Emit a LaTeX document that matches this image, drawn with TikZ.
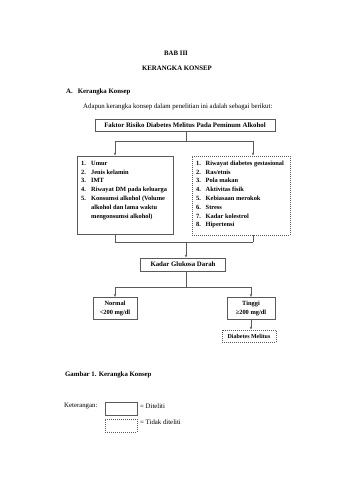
\documentclass[tikz,border=0pt]{standalone}
\usepackage{fontspec}
\setmainfont{Liberation Serif}
\usetikzlibrary{arrows.meta}
\definecolor{linec}{RGB}{90,90,90}
\begin{document}
\begin{tikzpicture}[x=1pt,y=-1pt,
  txt/.style={font=\fontsize{6.8}{8.8}\selectfont, inner sep=0pt, text=black},
  btxt/.style={font=\fontsize{6.8}{8.8}\selectfont\bfseries, inner sep=0pt, text=black},
  ltxt/.style={font=\fontsize{6.4}{8.8}\selectfont\bfseries, inner sep=0pt, text=black},
  solidbox/.style={draw=linec, line width=0.6pt, inner sep=0pt},
  dashbox/.style={draw=linec, line width=0.5pt, dash pattern=on 1pt off 1pt, inner sep=0pt},
  conn/.style={draw=linec, line width=0.4pt},
  arr/.style={conn, -{Latex[length=2.8pt,width=2.2pt]}}]
\useasboundingbox[fill=white] (0,0) rectangle (339,480);

% headings
\node[btxt] (bab) at (176,53) {BAB III};
\node[btxt] (judul) at (177,68) {KERANGKA KONSEP};
\node[btxt, anchor=west] (subA) at (66,92) {A.\hspace{5pt}Kerangka Konsep};
\node[txt, anchor=west] (intro) at (83,107) {Adapun kerangka konsep dalam penelitian ini adalah sebagai berikut:};

% top box
\node[solidbox, btxt, draw=linec, minimum width=180pt, minimum height=11.5pt] (faktor) at (185,125.5) {Faktor Risiko Diabetes Melitus Pada Peminum Alkohol};

% left box (diteliti)
\node[solidbox, minimum width=96pt, minimum height=78pt] (kiri) at (125,195) {};
\node[ltxt, anchor=north west] (kiritext) at (81,159) {%
\begin{tabular}{@{}p{10pt}@{}l@{}}
1. & Umur\\
2. & Jenis kelamin\\
3. & IMT\\
4. & Riwayat DM pada keluarga\\
5. & Konsumsi alkohol (Volume\\
   & alkohol dan lama waktu\\
   & mengonsumsi alkohol)
\end{tabular}};

% right box (tidak diteliti)
\node[dashbox, minimum width=98pt, minimum height=79pt] (kanan) at (241,195.5) {};
\node[ltxt, anchor=north west] (kanantext) at (196,159) {%
\begin{tabular}{@{}p{9.5pt}@{}l@{}}
1. & Riwayat diabetes gestasional\\
2. & Ras/etnis\\
3. & Pola makan\\
4. & Aktivitas fisik\\
5. & Kebiasaan merokok\\
6. & Stress\\
7. & Kadar kolestrol\\
8. & Hipertensi
\end{tabular}};

% middle and lower boxes
\node[solidbox, btxt, minimum width=85pt, minimum height=13pt] (kadar) at (183,264.5) {Kadar Glukosa Darah};
\node[solidbox, ltxt, minimum width=44pt, minimum height=22pt, align=center] (normal) at (115,308.5) {Normal\\<200 mg/dl};
\node[solidbox, ltxt, minimum width=48pt, minimum height=22pt, align=center] (tinggi) at (251,308.5) {Tinggi\\≥200 mg/dl};
\node[dashbox, btxt, font=\fontsize{6}{7}\selectfont\bfseries, minimum width=54pt, minimum height=12pt] (dm) at (249,336) {Diabetes Melitus};

% connectors
\coordinate (c1) at (186,141);
\coordinate (c1l) at (115,141);
\coordinate (c1r) at (253,141);
\draw[conn] (faktor.south -| c1) -- (c1);
\draw[conn] (c1l) -- (c1r);
\draw[arr] (c1l) -- (c1l |- kiri.north);
\draw[arr] (c1r) -- (c1r |- kanan.north);

\coordinate (c2) at (186,242);
\coordinate (c2l) at (115,242);
\coordinate (c2r) at (253,242);
\draw[conn] (c2l |- kiri.south) -- (c2l);
\draw[conn] (c2r |- kanan.south) -- (c2r);
\draw[conn] (c2l) -- (c2r);
\draw[arr] (c2) -- (c2 |- kadar.north);

\coordinate (c3) at (186,287);
\coordinate (c3l) at (115,287);
\coordinate (c3r) at (251,287);
\draw[conn] (c3 |- kadar.south) -- (c3);
\draw[conn] (c3l) -- (c3r);
\draw[arr] (c3l) -- (normal.north);
\draw[arr] (c3r) -- (tinggi.north);
\draw[arr] (tinggi.south) -- (tinggi.south |- dm.north);

% caption
\node[btxt, anchor=west] (gambar) at (65,375) {Gambar 1. Kerangka Konsep};

% legend
\node[txt, anchor=west] (ket) at (64,406) {Keterangan:};
\node[solidbox, minimum width=32pt, minimum height=13pt] (legsolid) at (121,408.5) {};
\node[txt, anchor=west] (legsolidtxt) at (140,406) {= Diteliti};
\node[dashbox, minimum width=32pt, minimum height=13pt] (legdash) at (121,425.5) {};
\node[txt, anchor=west] (legdashtxt) at (140,422) {= Tidak diteliti};
\end{tikzpicture}
\end{document}
